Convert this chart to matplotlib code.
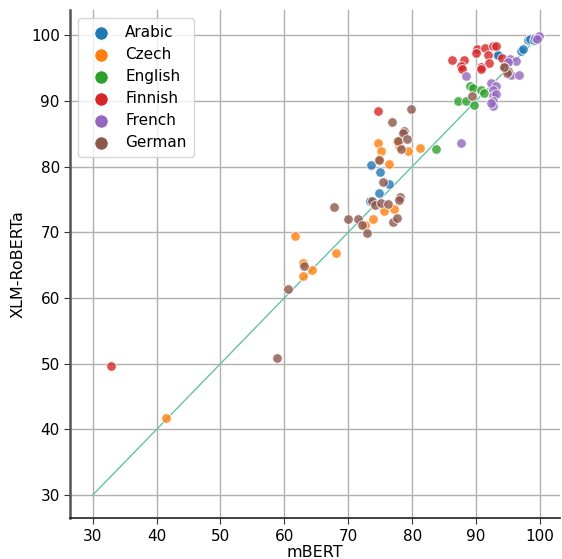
import matplotlib
matplotlib.use("Agg")
import matplotlib.pyplot as plt

languages = ["Arabic", "Czech", "English", "Finnish", "French", "German"]
colors = ["#1f77b4", "#ff7f0e", "#2ca02c", "#d62728", "#9467bd", "#8c564b"]

# (mBERT, XLM-RoBERTa) scores per language
arabic_mbert = [73.5, 75.0, 76.4, 74.8, 73.4, 93.3, 93.4, 97.1, 97.3, 98.1, 98.4, 99.0]
arabic_xlmr = [80.2, 79.2, 77.4, 76.0, 74.8, 96.9, 96.9, 97.6, 97.9, 99.2, 99.4, 99.3]

czech_mbert = [41.5, 61.7, 68.1, 63.0, 64.3, 63.0, 73.9, 72.6, 77.1, 75.6, 74.6, 75.2,
               78.0, 79.4, 81.3, 74.8, 76.4, 77.6]
czech_xlmr = [41.7, 69.4, 66.8, 65.3, 64.3, 63.4, 72.0, 71.1, 73.6, 73.2, 83.6, 82.4,
              83.1, 82.3, 82.8, 81.1, 80.4, 83.9]

english_mbert = [83.7, 89.0, 89.6, 90.8, 91.3, 87.2, 88.5, 89.7]
english_xlmr = [82.6, 92.2, 92.0, 91.6, 91.2, 89.9, 89.9, 89.3]

finnish_mbert = [32.9, 74.7, 86.3, 88.1, 87.6, 87.8, 90.1, 90.0, 91.4, 92.6, 93.2, 91.9,
                 92.0, 90.8, 90.7, 94.0]
finnish_xlmr = [49.7, 88.5, 96.2, 96.2, 95.3, 94.8, 97.9, 97.2, 98.0, 98.3, 98.3, 96.9,
                95.7, 95.2, 94.9, 96.5]

french_mbert = [87.7, 88.4, 92.3, 93.1, 92.7, 92.7, 93.2, 92.7, 92.6, 92.4, 95.3, 96.2,
                95.5, 96.7, 95.0, 99.2, 99.8, 99.5]
french_xlmr = [83.6, 93.8, 92.7, 92.2, 91.6, 90.8, 91.0, 90.0, 89.2, 89.7, 96.4, 96.1,
               93.9, 93.9, 95.9, 99.6, 99.9, 99.4]

german_mbert = [58.9, 60.6, 63.1, 67.7, 70.0, 71.6, 72.1, 73.0, 77.0, 77.7, 75.4, 73.75,
                74.2, 75.2, 76.2, 78.1, 77.9, 74.8, 79.8, 76.8, 78.7, 78.5, 77.8, 79.2,
                78.3, 89.3, 94.3, 95.0, 94.8, 94.4]
german_xlmr = [50.8, 61.4, 64.9, 73.8, 72.0, 72.0, 71.1, 69.9, 71.6, 72.1, 77.7, 74.7,
               74.1, 74.5, 74.3, 75.3, 74.9, 81.0, 88.8, 86.8, 85.4, 85.1, 83.9, 84.2,
               82.6, 90.8, 95.1, 94.6, 94.2, 95.1]

xs = [arabic_mbert, czech_mbert, english_mbert, finnish_mbert, french_mbert, german_mbert]
ys = [arabic_xlmr, czech_xlmr, english_xlmr, finnish_xlmr, french_xlmr, german_xlmr]

fig = plt.figure(figsize=(5.62, 5.59), dpi=100)
ax = fig.add_axes([0.125, 0.073, 0.871, 0.909])

ax.plot([30, 100], [30, 100], color="#66c2a5", linewidth=1, zorder=1)

for lang, c, x, y in zip(languages, colors, xs, ys):
    ax.scatter(x, y, s=48, color=c, alpha=0.8, edgecolors="white",
               linewidths=0.7, label=lang, zorder=3)

ax.set_xlim(26.5, 103.1)
ax.set_ylim(26.5, 103.8)
ax.set_xticks(range(30, 101, 10))
ax.set_yticks(range(30, 101, 10))
ax.grid(True, color="#b0b0b0", linewidth=1)
ax.set_axisbelow(True)

for s in ["top", "right"]:
    ax.spines[s].set_visible(False)
ax.spines["left"].set_color("#555555")
ax.spines["left"].set_linewidth(1.8)
ax.spines["bottom"].set_color("#222222")
ax.spines["bottom"].set_linewidth(1.2)
ax.tick_params(labelsize=11, length=4, color="#333333")

ax.set_xlabel("mBERT", fontsize=11.5, labelpad=1)
ax.set_ylabel("XLM-RoBERTa", fontsize=11.5)

leg = ax.legend(loc="upper left", fontsize=11, markerscale=1.4, handletextpad=0.6,
                borderpad=0.5, labelspacing=0.45, framealpha=0.8)
for h in leg.legend_handles:
    h.set_alpha(1)

fig.savefig("out.png", dpi=100)
